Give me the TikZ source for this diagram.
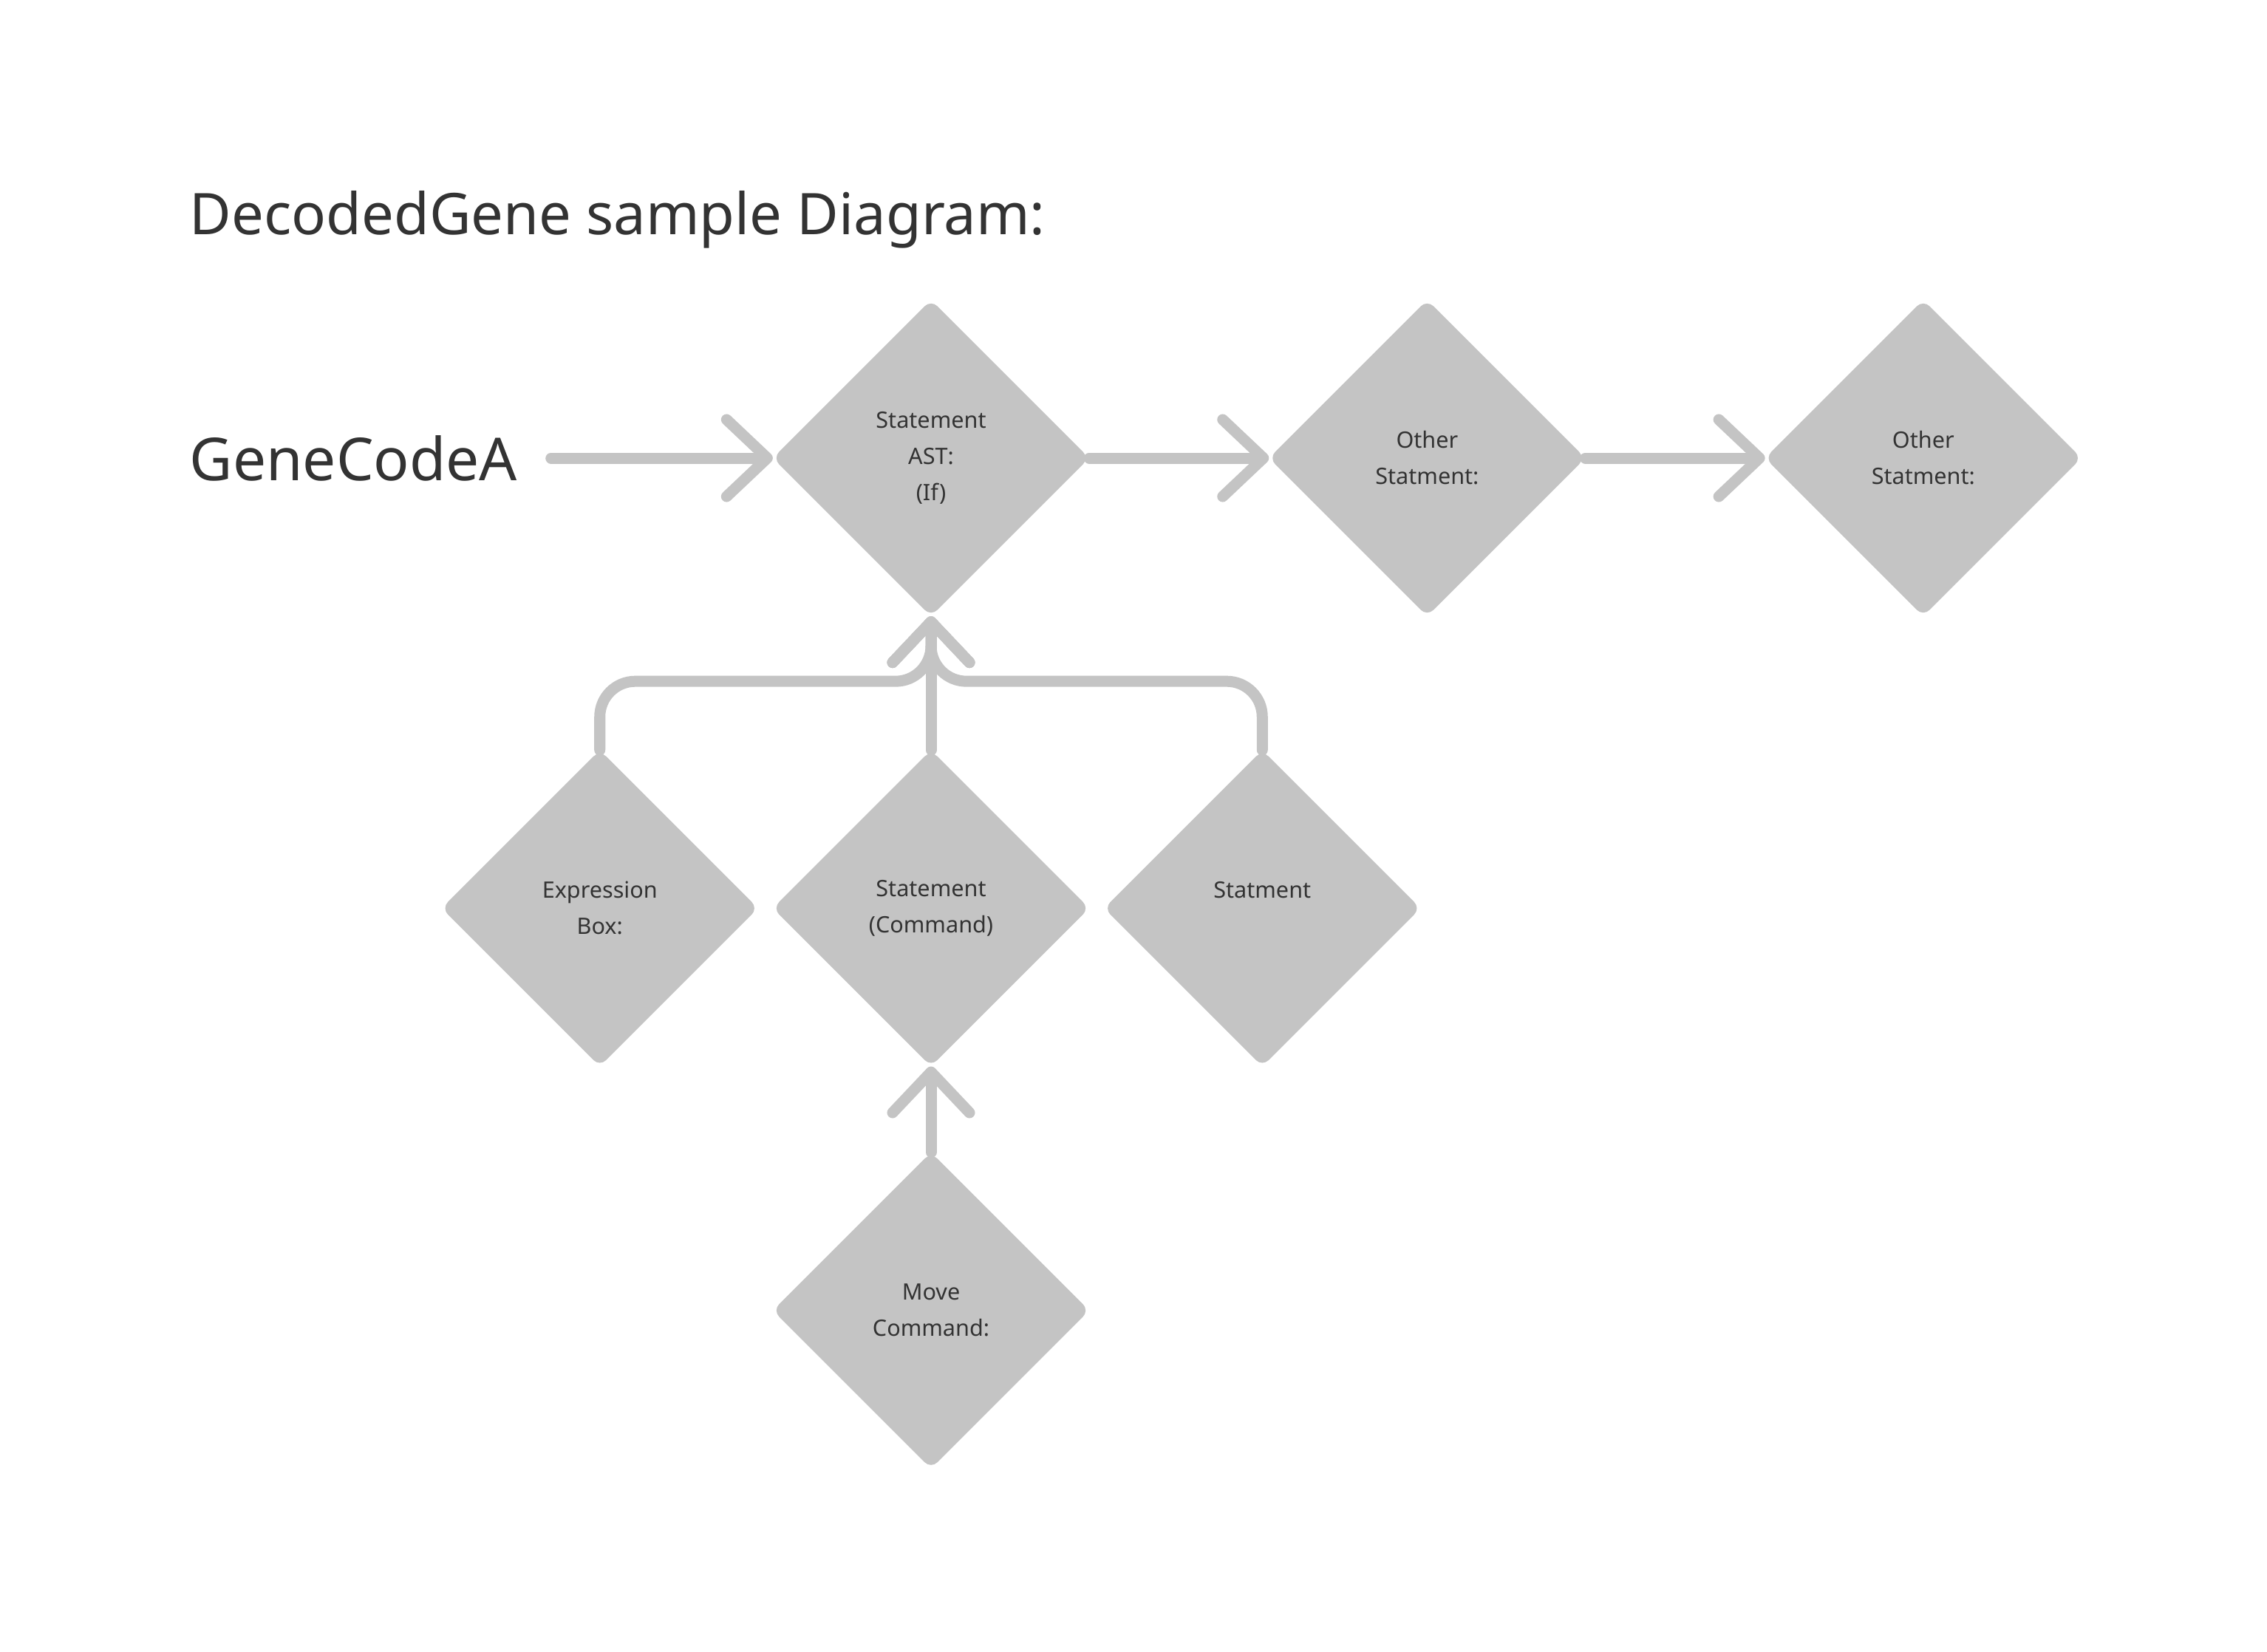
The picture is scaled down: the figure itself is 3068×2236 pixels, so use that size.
\documentclass[tikz,border=0pt]{standalone}
\usepackage{fontspec}
\setmainfont{Noto Sans}
\usetikzlibrary{shapes.geometric,arrows.meta,positioning}
\definecolor{shapegray}{HTML}{C4C4C4}
\definecolor{textgray}{HTML}{333333}
\tikzset{
  gene/.style={diamond, fill=shapegray, rounded corners=0.12cm, inner sep=0pt, outer sep=0pt,
    aspect=1, minimum width=4.28cm, minimum height=4.28cm, align=center, text=textgray,
    font=\fontsize{8.7pt}{13.9pt}\selectfont},
  bigtext/.style={anchor=base west, inner sep=0pt, text=textgray, font=\fontsize{22.8pt}{27pt}\selectfont},
  flow/.style={draw=shapegray, line width=0.15cm, line cap=round,
    -{Straight Barb[length=0.55cm, width=1.04cm, line cap=round, line join=round]}}
}
\begin{document}
\begin{tikzpicture}[x=0.01cm, y=-0.01cm]
    \useasboundingbox (0,0) rectangle (3068,2236);
    \node[bigtext, font=\fontsize{22.1pt}{27pt}\selectfont] (title) at (256,317) {DecodedGene sample Diagram:};
    \node[bigtext] (code) at (256,650) {GeneCodeA};
    \node[gene] (ast) at (1260,620) {Statement\\AST:\\(If)};
    \node[gene, right=2.43cm of ast] (other1) {Other\\Statment:};
    \node[gene, right=2.43cm of other1] (other2) {Other\\Statment:};
    \node[gene, below=1.81cm of ast] (cmd) {Statement\\(Command)};
    \node[gene, left=0.2cm of cmd] (expr) {Expression\\Box:};
    \node[gene, right=0.2cm of cmd, text depth=0.49cm] (stmt) {Statment};
    \node[gene, below=1.16cm of cmd] (move) {Move\\Command:};
    \coordinate[below=0.88cm of ast.south] (fork);
    \draw[flow, shorten <=0.45cm] (code.east |- ast.west) -- (ast.west);
    \draw[flow] (ast.east) -- (other1.west);
    \draw[flow] (other1.east) -- (other2.west);
    \draw[flow, rounded corners=0.48cm] (expr.north) |- (fork) -- (ast.south);
    \draw[flow, rounded corners=0.48cm] (stmt.north) |- (fork) -- (ast.south);
    \draw[flow] (cmd.north) -- (ast.south);
    \draw[flow] (move.north) -- (cmd.south);
\end{tikzpicture}
\end{document}
